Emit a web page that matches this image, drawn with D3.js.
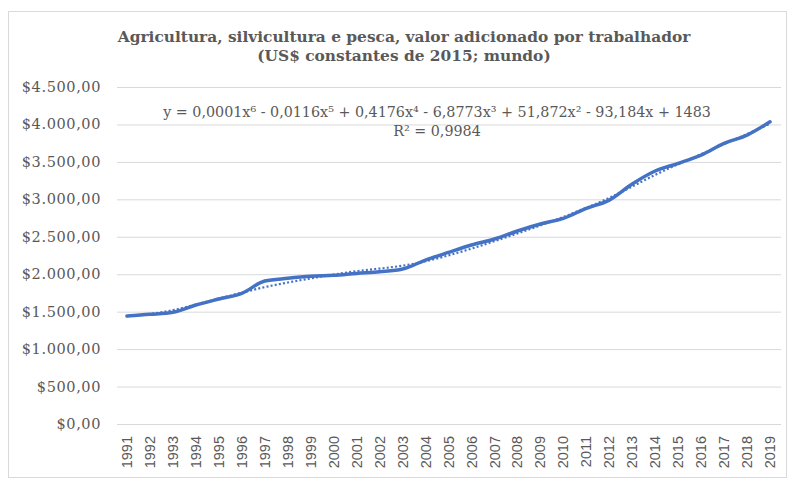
<!DOCTYPE html>
<html>
<head>
<meta charset="utf-8">
<script src="https://cdn.jsdelivr.net/npm/d3@7"></script>
<style>
  body { margin: 0; background: #fff; }
  svg text { fill: #595959; }
</style>
</head>
<body>
<div id="chart"></div>
<script>
// valores
const years = ["1991","1992","1993","1994","1995","1996","1997","1998","1999","2000",
  "2001","2002","2003","2004","2005","2006","2007","2008","2009","2010",
  "2011","2012","2013","2014","2015","2016","2017","2018","2019"];
const values = [1442,1464,1492,1589,1669,1745,1909,1945,1972,1985,
  2011,2033,2069,2189,2292,2390,2470,2577,2670,2746,
  2879,2990,3205,3378,3480,3591,3747,3858,4036];
const trend = [1440,1465,1515,1595,1675,1755,1830,1890,1945,1995,
  2045,2075,2110,2170,2250,2340,2440,2545,2650,2765,
  2885,3015,3170,3330,3470,3600,3740,3870,4010];
const yTicks = [0,500,1000,1500,2000,2500,3000,3500,4000,4500];
const titleLines = ["Agricultura, silvicultura e pesca, valor adicionado por trabalhador",
  "(US$ constantes de 2015; mundo)"];
const equation = "y = 0,0001x⁶ - 0,0116x⁵ + 0,4176x⁴ - 6,8773x³ + 51,872x² - 93,184x + 1483";
const rSquared = "R² = 0,9984";

const W = 788, H = 479;
const serif = "Georgia, 'DejaVu Serif', serif";

const svg = d3.select("#chart").append("svg").attr("width", W).attr("height", H);

svg.append("rect").attr("x", 8.5).attr("y", 11.5).attr("width", W - 10).attr("height", H - 13)
  .attr("fill", "#fff").attr("stroke", "#d9d9d9");

let x = d3.scaleBand().domain(years).range([115.5, 781.5]),
    y = d3.scaleLinear().domain([0, 4500]).range([424, 87]);
const cx = d => x(d) + x.bandwidth() / 2;

// grade
svg.append("g").selectAll("line").data(yTicks).enter().append("line")
  .attr("x1", 117).attr("x2", 781).attr("y1", d => y(d) + 0.5).attr("y2", d => y(d) + 0.5)
  .attr("stroke", "#d9d9d9").attr("stroke-width", 1);

// eixo y
const fmt = v => "$" + d3.format(",.2f")(v).replace(/,/g, "#").replace(".", ",").replace(/#/g, ".");
svg.append("g").selectAll("text").data(yTicks).enter().append("text")
  .attr("x", 101).attr("y", d => y(d) + 5).attr("text-anchor", "end")
  .style("font-family", serif).style("font-size", "14.5px").style("letter-spacing", "0.6px").text(fmt);

// eixo x
svg.append("g").attr("transform", "translate(0,424)")
  .call(d3.axisBottom(x).tickSize(0).tickPadding(0))
  .call(g => g.select(".domain").remove())
  .selectAll("text")
  .attr("transform", "rotate(-90)").attr("x", -12).attr("y", 0).attr("dy", "0.35em")
  .style("text-anchor", "end").style("font-family", "'Liberation Sans', Arial, sans-serif")
  .style("font-size", "14.5px").style("fill", "#595959");

// linhas
const line = d3.line().x((d, i) => cx(years[i])).y(d => y(d)).curve(d3.curveMonotoneX);
svg.append("path").datum(values).attr("fill", "none").attr("stroke", "#4472C4")
  .attr("stroke-width", 3.5).attr("stroke-linejoin", "round").attr("stroke-linecap", "round").attr("d", line);
svg.append("path").datum(trend).attr("fill", "none").attr("stroke", "#4472C4")
  .attr("stroke-width", 2.2).attr("stroke-dasharray", "2,2.2").attr("d", line.curve(d3.curveBasis));

// titulo
svg.append("g").selectAll("text").data(titleLines).enter().append("text")
  .attr("x", 404).attr("y", (d, i) => 42 + i * 19).attr("text-anchor", "middle")
  .style("font-family", serif).style("font-weight", "bold").style("font-size", "15.4px").text(d => d);

// equacao da tendencia
svg.append("text").attr("x", 437).attr("y", 117).attr("text-anchor", "middle")
  .style("font-family", serif).style("font-size", "14.3px").text(equation);
svg.append("text").attr("x", 437).attr("y", 136).attr("text-anchor", "middle")
  .style("font-family", serif).style("font-size", "14.3px").text(rSquared);
</script>
</body>
</html>
